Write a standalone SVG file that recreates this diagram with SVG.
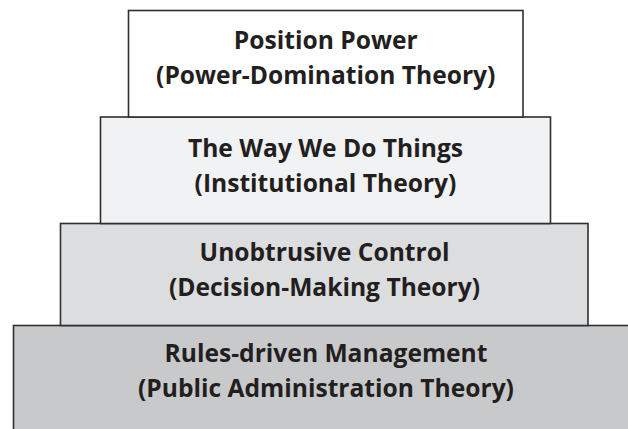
<svg xmlns="http://www.w3.org/2000/svg" width="628" height="429" viewBox="0 0 628 429">
<style>
.box{stroke:#2f2f2f;stroke-width:1.6}
.t{font-family:"Open Sans",Lato,"Liberation Sans",sans-serif;font-weight:bold;font-size:24.6px;fill:#231f20;text-anchor:middle}
</style>
<rect width="628" height="429" fill="#ffffff"/>
<g id="node-rules">
<rect class="box" x="13.5" y="325.5" width="625" height="120" fill="#c8c9cb"/>
<text class="t" x="326" y="362">Rules-driven Management</text>
<text class="t" x="326" y="397">(Public Administration Theory)</text>
</g>
<g id="node-unobtrusive">
<rect class="box" x="60.5" y="223.5" width="527.5" height="102" fill="#dcdddf"/>
<text class="t" x="324.5" y="260.5">Unobtrusive Control</text>
<text class="t" x="324.5" y="295.5">(Decision-Making Theory)</text>
</g>
<g id="node-way">
<rect class="box" x="100.5" y="117" width="450" height="106.5" fill="#f1f2f4"/>
<text class="t" x="325.5" y="156.5">The Way We Do Things</text>
<text class="t" x="325.5" y="191.5">(Institutional Theory)</text>
</g>
<g id="node-position">
<rect class="box" x="128.5" y="10.5" width="394.5" height="106.5" fill="#ffffff"/>
<text class="t" x="325.75" y="48.5">Position Power</text>
<text class="t" x="325.75" y="83.5">(Power-Domination Theory)</text>
</g>
<g id="connectors"/>
</svg>
